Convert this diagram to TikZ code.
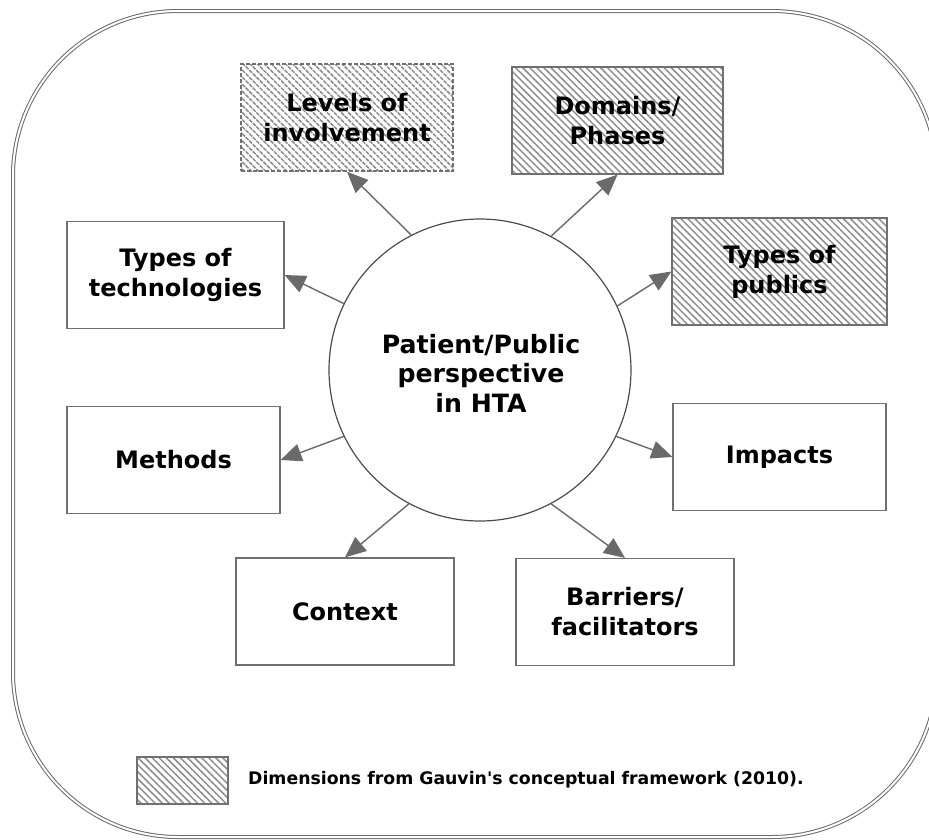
\documentclass[tikz,border=0pt]{standalone}
\usepackage{fontspec}
\setmainfont{DejaVu Sans}
\usetikzlibrary{arrows.meta,patterns.meta}

\definecolor{framegray}{HTML}{6A6A6A}
\definecolor{boxgray}{HTML}{707070}
\definecolor{arrowgray}{HTML}{6A6A6A}
\definecolor{hatchgray}{HTML}{8C8C8C}

\tikzset{
  dimbox/.style={draw=boxgray, line width=1.2pt, minimum width=#1, minimum height=107pt,
    align=center, inner sep=0pt, font=\fontsize{24}{30}\selectfont\bfseries},
  dimbox/.default=214pt,
  hatched/.style={pattern={Lines[angle=-45,distance=5pt,line width=1.5pt]}, pattern color=hatchgray},
  hub/.style={circle, draw=black!70, line width=1.2pt, minimum size=302pt, inner sep=0pt},
  arr/.style={draw=arrowgray, line width=1.4pt, -{Triangle[length=21pt,width=18pt]}, arrowgray},
  frame/.style={draw=framegray, line width=1pt, double=white, double distance=2pt}
}

\begin{document}
\begin{tikzpicture}[x=1pt,y=-1pt]
  \useasboundingbox (0,0) rectangle (929,839);

  % outer frame with double line
  \draw[frame, rounded corners=165pt] (13,11) rectangle (937,837);

  % central concept
  \node[hub] (hub) at (480,370) {};
  \node[align=center, font=\fontsize{25.2}{29.5}\selectfont\bfseries] (hubtext) at (481,373)
    {Patient/Public\\perspective\\in HTA};

  % dimensions around the centre
  \node[dimbox=212pt, hatched, dashed, dash pattern=on 4pt off 2pt] (lev) at (347,117.5) {Levels of\\involvement};
  \node[dimbox=211pt, hatched] (dom) at (617.5,120.5) {Domains/\\Phases};
  \node[dimbox=215pt, hatched] (pub) at (779.5,271.5) {Types of\\publics};
  \node[dimbox=213pt] (imp) at (779.5,457) {Impacts};
  \node[dimbox=218pt] (bar) at (625,612) {Barriers/\\facilitators};
  \node[dimbox=218pt] (ctx) at (345,611.5) {Context};
  \node[dimbox=213pt] (meth) at (173.5,460) {Methods};
  \node[dimbox=217pt] (tech) at (175.5,275) {Types of\\technologies};

  % connectors from the centre
  \draw[arr] (hub.117.6) -- (lev.south);
  \draw[arr] (hub.62.6) -- (dom.south);
  \draw[arr] (hub.25.2) -- (pub.west);
  \draw[arr] (hub.-26.4) -- (imp.west);
  \draw[arr] (hub.-62.4) -- (bar.north);
  \draw[arr] (hub.242.6) -- (ctx.north);
  \draw[arr] (hub.206.4) -- (meth.east);
  \draw[arr] (hub.154.6) -- (tech.east);

  % legend
  \node[draw=boxgray, line width=1.2pt, hatched, minimum width=91pt, minimum height=47pt, inner sep=0pt] (key) at (182.5,780.5) {};
  \node[anchor=west, inner sep=0pt, font=\fontsize{17.3}{20}\selectfont\bfseries] (keytext) at (248,780)
    {Dimensions from Gauvin\textquotesingle s conceptual framework (2010).};
\end{tikzpicture}
\end{document}
